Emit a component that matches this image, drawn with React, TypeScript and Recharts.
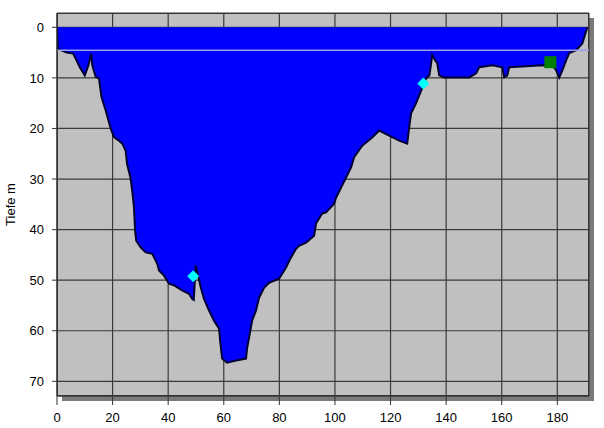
import { Area, ComposedChart, CartesianGrid, ReferenceLine, Scatter, XAxis, YAxis } from 'recharts';

// cross-section: distance (m) and depth (m)
const DIST = [
  0, 0.3, 1.8, 3.5, 5.8, 6.8, 8.2, 10, 11.3, 12.3, 12.7, 13.9, 15.1, 16, 17.5, 19.3, 20.5, 22, 23.5, 24.7,
  25.2, 26.5, 27.2, 27.7, 28.1, 28.5, 30.1, 31.9, 34.3, 36.1, 36.7, 38.5, 40.3, 42, 45, 47.5, 48.6, 49.2,
  49.9, 50.5, 51.7, 52.9, 54.7, 56.5, 58.3, 58.7, 59.4, 61.2, 64.4, 68, 68.4, 69.1, 70.2, 71.6, 72.7, 74.5,
  76.3, 79.9, 82.4, 84.2, 86, 87.1, 89.6, 92.5, 93.2, 95.4, 96.8, 99.7, 100.4, 102.2, 104, 105.8, 106.9,
  109.8, 113.4, 115.9, 119.5, 123.1, 126, 126.7, 127.4, 129.2, 131, 132.8, 134, 135, 136, 136.8, 137.5,
  139.3, 143.6, 148.3, 150.8, 151.9, 156.6, 160.2, 160.9, 162, 162.7, 168.8, 174.6, 178.5, 179.6, 180.7,
  181.8, 183.2, 184.3, 186.8, 189, 190.5, 190.8,
];
const DEPTH = [
  0, 4.2, 4.6, 5.0, 5.2, 6.3, 7.9, 9.5, 7.5, 5.2, 7.5, 9.8, 10.1, 13.8, 16.4, 20.0, 21.7, 22.3, 23.0, 24.4,
  27.0, 29.9, 33.0, 35.6, 40.2, 42.2, 43.5, 44.5, 44.8, 46.8, 48.1, 49.1, 50.7, 51.0, 52.0, 52.7, 53.7, 53.9,
  47.1, 48.5, 51.4, 53.7, 56.0, 58.0, 59.6, 62.0, 65.5, 66.3, 65.9, 65.5, 63.4, 61.4, 58.0, 56.0, 53.5, 51.5,
  50.5, 49.7, 47.5, 45.5, 43.8, 43.2, 42.6, 41.2, 38.8, 36.8, 36.6, 34.9, 33.7, 31.7, 29.7, 27.7, 25.7,
  23.4, 21.8, 20.4, 21.4, 22.4, 23.0, 19.8, 17.0, 15.0, 12.5, 10.1, 9.5, 5.5, 6.5, 7.1, 9.5,
  9.9, 9.9, 9.9, 9.1, 7.9, 7.5, 7.9, 9.9, 9.5, 7.9, 7.7, 7.5, 7.7, 8.5, 9.9,
  8.5, 6.5, 5.1, 4.5, 3.2, 0.5, 0,
];

const WATER_LEVEL = 4.55;

const DIAMONDS = [
  { x: 49.0, depth: 49.2 },
  { x: 131.8, depth: 11.1 },
];
const SQUARES = [{ x: 177.5, depth: 6.9 }];

const X_TICKS = [0, 20, 40, 60, 80, 100, 120, 140, 160, 180];
const Y_TICKS = [0, 10, 20, 30, 40, 50, 60, 70];
const Y_MINOR = [5, 15, 25, 35, 45, 55, 65];

const X_DOMAIN = [0, 191.4];
const Y_DOMAIN = [-2.83, 72.9];

const profile = DIST.map((x, i) => ({ x, depth: DEPTH[i] }));

const FONT = "'Liberation Sans', Arial, sans-serif";

const Diamond = (p: any) => {
  const r = 6;
  return (
    <polygon
      points={`${p.cx},${p.cy - r} ${p.cx + r},${p.cy} ${p.cx},${p.cy + r} ${p.cx - r},${p.cy}`}
      fill="#00ffff"
    />
  );
};

const Square = (p: any) => <rect x={p.cx - 6} y={p.cy - 6} width={12} height={12} fill="#008000" />;

const YLabel = (p: any) => {
  const vb = p.viewBox || { x: 0, y: 0, height: 0 };
  const cx = vb.x + 10;
  const cy = vb.y + vb.height / 2;
  return (
    <text
      x={cx}
      y={cy}
      transform={`rotate(-90 ${cx} ${cy})`}
      textAnchor="middle"
      dominantBaseline="central"
      fontSize={13}
      fontFamily={FONT}
      fill="#000"
    >
      Tiefe m
    </text>
  );
};

export default function App() {
  return (
    <div style={{ position: 'absolute', left: 0, top: 0, width: 604, height: 428, background: '#fff' }}>
      {/* plot wall with its drop shadow */}
      <div
        style={{
          position: 'absolute',
          left: 57,
          top: 13,
          width: 532,
          height: 383,
          boxSizing: 'border-box',
          background: '#c0c0c0',
          border: '1px solid #333',
          boxShadow: '5px 5px 0 #7a7a7a',
        }}
      />
      <div style={{ position: 'absolute', left: 0, top: 0 }}>
        <ComposedChart width={604} height={428} data={profile} margin={{ top: 13, right: 15, bottom: 2, left: 0 }}>
          <CartesianGrid stroke="#3a3a3a" strokeWidth={1.2} />
          <XAxis
            dataKey="x"
            type="number"
            domain={X_DOMAIN}
            ticks={X_TICKS}
            allowDataOverflow
            height={30}
            tickSize={9}
            tickMargin={8}
            axisLine={{ stroke: '#333' }}
            tickLine={{ stroke: '#333' }}
            tick={{ fill: '#000', fontSize: 13, fontFamily: FONT }}
          />
          <YAxis
            type="number"
            reversed
            domain={Y_DOMAIN}
            ticks={Y_TICKS}
            allowDataOverflow
            width={57}
            tickSize={5}
            tickMargin={8}
            axisLine={{ stroke: '#333' }}
            tickLine={{ stroke: '#333' }}
            tick={{ fill: '#000', fontSize: 13, fontFamily: FONT }}
            label={<YLabel />}
          />
          <YAxis
            yAxisId="minor"
            type="number"
            reversed
            mirror
            domain={Y_DOMAIN}
            ticks={Y_MINOR}
            allowDataOverflow
            width={5}
            tickSize={5}
            axisLine={false}
            tick={false}
            tickLine={{ stroke: '#333' }}
          />
          <Area
            type="linear"
            dataKey="depth"
            baseValue={0}
            fill="#0000ff"
            fillOpacity={1}
            stroke="#000033"
            strokeWidth={2}
            isAnimationActive={false}
          />
          <ReferenceLine y={WATER_LEVEL} stroke="#9c9cf0" strokeWidth={1.5} />
          <Scatter data={DIAMONDS} dataKey="depth" shape={Diamond} isAnimationActive={false} />
          <Scatter data={SQUARES} dataKey="depth" shape={Square} isAnimationActive={false} />
        </ComposedChart>
      </div>
    </div>
  );
}
